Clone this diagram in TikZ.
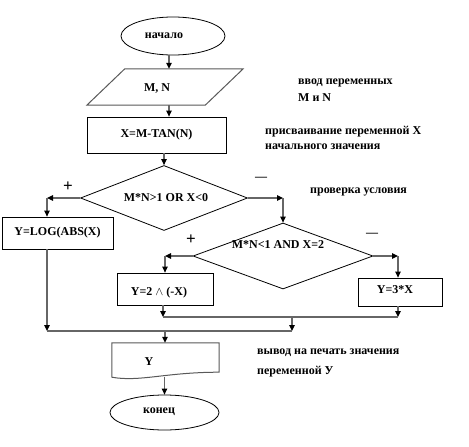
\documentclass[tikz,border=0pt]{standalone}
\usepackage{fontspec}
\setmainfont{Liberation Serif}
\usetikzlibrary{shapes.geometric,arrows.meta,calc}
\begin{document}
\begin{tikzpicture}[x=1pt,y=-1pt,
  txt/.style={font=\bfseries\fontsize{12}{14}\selectfont, inner sep=0pt},
  sign/.style={font=\bfseries\fontsize{17}{19}\selectfont, inner sep=0pt},
  note/.style={txt, anchor=west},
  outline/.style={draw=black, line width=0.8pt},
  grayline/.style={draw=gray!70!black, line width=1pt},
  rectbox/.style={outline, rectangle, inner sep=0pt, txt},
  conn/.style={draw=gray!80!black, line width=1.1pt},
  arr/.style={conn, -{Triangle[length=6pt,width=5.5pt,black]}}]
\useasboundingbox (0,0) rectangle (469,447);
\fill[white] (0,0) rectangle (469,447);
% axis coordinates
\coordinate (ax1) at (169,0);
% start
\node[ellipse, outline, minimum width=104, minimum height=38, inner sep=0pt] (start) at (173,36) {};
\node[txt] (startT) at (164,36) {начало};
% input
\node[minimum width=118, minimum height=36, inner sep=0pt] (inp) at (165,87) {};
\draw[grayline] ($(inp.north west)+(19,0)$) -- ($(inp.north east)+(19,0)$) -- ($(inp.south east)+(-19,0)$) -- ($(inp.south west)+(-19,0)$) -- cycle;
\node[txt] (inpT) at (157,88) {M, N};
% process
\node[rectbox, minimum width=139, minimum height=36] (proc) at (156.5,135) {X=M-TAN(N)};
% decision 1
\node[diamond, outline, minimum width=167, minimum height=65, inner sep=0pt] (d1) at (164,198) {};
\node[txt] (d1T) at (166,198) {M*N>1 OR X<0};
% log box
\node[rectbox, minimum width=111, minimum height=32] (log) at (57.5,233) {Y=LOG(ABS(X)};
% decision 2
\node[diamond, outline, minimum width=180, minimum height=66, inner sep=0pt] (d2) at (283,256) {};
\node[txt] (d2T) at (278,245) {M*N<1 AND X=2};
% pow box
\node[rectbox, minimum width=96, minimum height=32] (pow) at (165,289) {};
\node[txt] (powT) at (159,293) {Y=2 $\wedge$ (-X)};
% mul box
\node[rectbox, minimum width=84, minimum height=28] (mul) at (400,292) {};
\node[txt] (mulT) at (395,290) {Y=3*X};
% output document
\node[minimum width=107, minimum height=34, inner sep=0pt] (doc) at (165.5,360) {};
\draw[grayline] (doc.south west) -- (doc.north west) -- (doc.north east) -- ($(doc.south east)+(0,-5)$)
  .. controls ($(doc.south)+(0,-5)$) and ($(doc.south west)+(28,5)$) .. (doc.south west) -- cycle;
\node[txt] (docT) at (149,362) {Y};
% end
\node[ellipse, outline, minimum width=109, minimum height=35, inner sep=0pt] (end) at (164.5,412.5) {};
\node[txt] (endT) at (159,412) {конец};
% signs
\node[sign] (plus1) at (68,187) {+};
\node[sign] (plus2) at (191,240) {+};
\node[txt] (minus1) at (261,179) {—};
\node[txt] (minus2) at (372,235) {—};
% notes
\node[note] (n1) at (298,83) {ввод переменных};
\node[note] (n1b) at (298,98) {M и N};
\node[note] (n2) at (265,132) {присваивание переменной X};
\node[note] (n2b) at (265,147) {начального значения};
\node[note] (n3) at (310,192) {проверка условия};
\node[note] (n4) at (257,353) {вывод на печать значения};
\node[note] (n4b) at (257,372) {переменной У};
% junction coordinates
\coordinate (c1) at (47,198);
\coordinate (c2) at (283,198);
\coordinate (c3) at (165,256);
\coordinate (c4) at (398,256);
\coordinate (j1) at (163,317);
\coordinate (j2) at (398,317);
\coordinate (j3) at (292,317);
\coordinate (j4) at (292,331);
\coordinate (j5) at (47,331);
\coordinate (j6) at (165,331);
% connectors
\draw[arr] (start.south -| ax1) -- (inp.north -| ax1);
\draw[arr] (inp.south -| ax1) -- (proc.north -| ax1);
\draw[arr] (proc.south -| d1.north) -- (d1.north);
\draw[arr] (d1.west) -- (c1);
\draw[arr] (c1) -- (c1 |- log.north);
\draw[arr] (d1.east) -- (c2);
\draw[arr] (c2) -- (d2.north);
\draw[arr] (d2.west) -- (c3);
\draw[arr] (c3) -- (pow.north);
\draw[arr] (d2.east) -- (c4);
\draw[arr] (c4) -- (c4 |- mul.north);
\draw[arr] (j1 |- pow.south) -- (j1);
\draw[arr] (j2 |- mul.south) -- (j2);
\draw[conn] (j1) -- (j2);
\draw[arr] (j3) -- (j4);
\draw[arr] (j5 |- log.south) -- (j5);
\draw[conn] (j5) -- (j4);
\draw[arr] (j6) -- (j6 |- doc.north);
\draw[arr] (end.north |- doc.south) -- (end.north);
\end{tikzpicture}
\end{document}
